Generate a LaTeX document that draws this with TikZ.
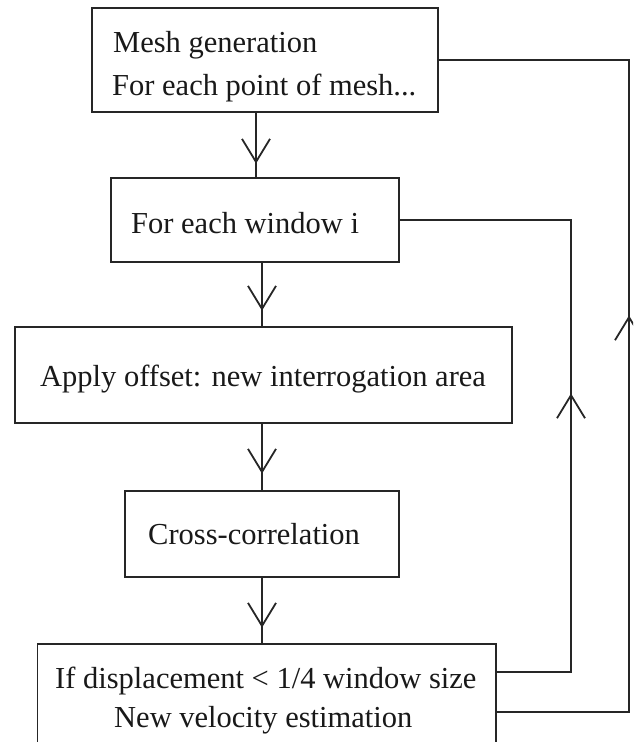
\documentclass[tikz,border=0pt]{standalone}
\usepackage{fontspec}
\setmainfont{Liberation Serif}
\usetikzlibrary{calc,decorations.markings}

\tikzset{
  box/.style={draw=black!85, line width=1.8pt, fill=white, inner sep=0pt},
  txt/.style={inner sep=0pt, anchor=base west, text=black!90,
              font=\fontsize{30.5}{36}\selectfont},
  link/.style={draw=black!85, line width=1.8pt},
  % open V head placed partway along a connector, #1 = distance from its start
  vhead/.style={postaction={decorate}, decoration={markings,
      mark=at position #1 with {\draw[draw=black!85, line width=1.8pt]
        (-23,14) -- (0,0) -- (-23,-14);}}}
}

\begin{document}
\begin{tikzpicture}[x=1pt, y=-1pt]
  \useasboundingbox (0,0) rectangle (633,742);
  \clip (0,0) rectangle (633,742);

  % process boxes
  \node[box, minimum width=346pt, minimum height=104pt] (b1) at (265,60) {};
  \node[box, minimum width=288pt, minimum height=84pt]  (b2) at (255,220) {};
  \node[box, minimum width=497pt, minimum height=96pt]  (b3) at (263.5,375) {};
  \node[box, minimum width=274pt, minimum height=86pt]  (b4) at (262,534) {};
  \node[box, minimum width=458.5pt, minimum height=130pt] (b5) at (266.75,709) {};

  % box texts
  \node[txt] (t1a) at (113,52)  {Mesh generation};
  \node[txt] (t1b) at (112,95)  {For each point of mesh...};
  \node[txt] (t2)  at (131,233) {For each window i};
  \node[txt] (t3)  at (40,386)  {Apply offset: new interrogation area};
  \node[txt] (t4)  at (148,544) {Cross-correlation};
  \node[txt] (t5a) at (55,688)  {If displacement < 1/4 window size};
  \node[txt] (t5b) at (114,727) {New velocity estimation};

  % exits of the last box towards the two loops
  \coordinate (e5a) at ($(b5.north east)+(0,29)$);
  \coordinate (e5b) at ($(b5.north east)+(0,69)$);
  \coordinate (c1) at (256,0);
  \coordinate (c2) at (571,0);
  \coordinate (c3) at (629,0);

  % main flow, top to bottom
  \draw[link, vhead=49pt] (b1.south -| c1) -- (b2.north -| c1);
  \draw[link, vhead=46pt] (b2.south -| b4.north) -- (b3.north -| b4.north);
  \draw[link, vhead=48pt] (b3.south -| b4.north) -- (b4.north);
  \draw[link, vhead=48pt] (b4.south) -- (b5.north -| b4.south);

  % inner loop: back to the window loop
  \draw[link, vhead=351pt] (e5a) -- (e5a -| c2) -- (b2.east -| c2) -- (b2.east);
  % outer loop: back to the mesh loop
  \draw[link, vhead=527pt] (e5b) -- (e5b -| c3) -- (b1.east -| c3) -- (b1.east);
\end{tikzpicture}
\end{document}
